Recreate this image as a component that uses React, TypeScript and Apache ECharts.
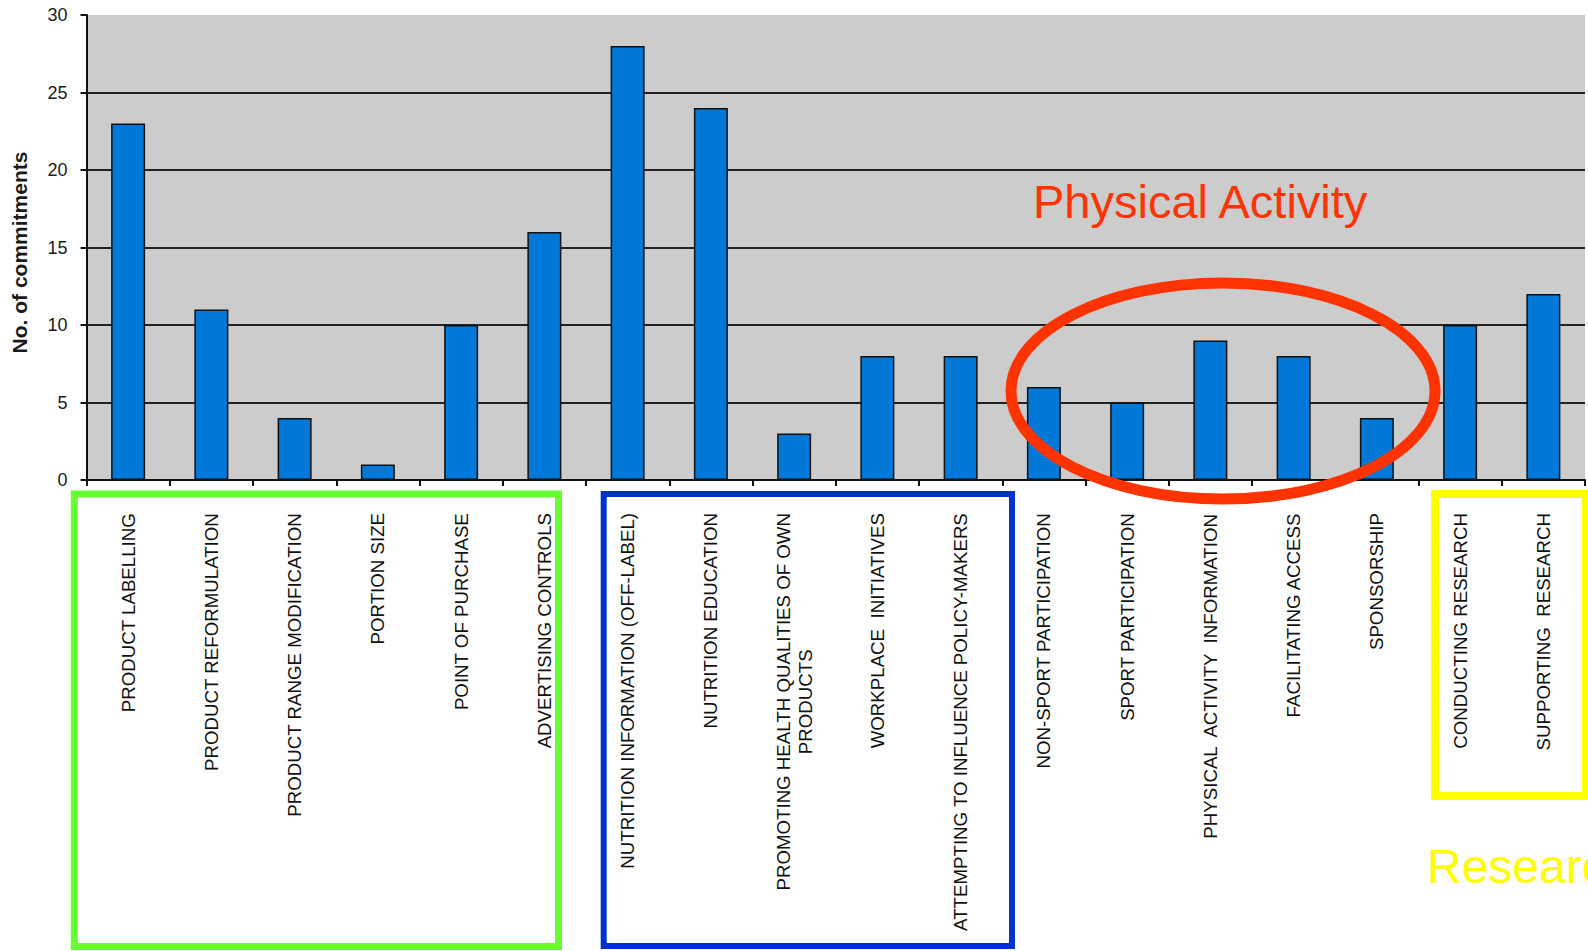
import React, { useEffect, useRef } from "react";
import * as echarts from "echarts";

const categories: string[] = [
  "PRODUCT LABELLING",
  "PRODUCT REFORMULATION",
  "PRODUCT RANGE MODIFICATION",
  "PORTION SIZE",
  "POINT OF PURCHASE",
  "ADVERTISING CONTROLS",
  "NUTRITION INFORMATION (OFF-LABEL)",
  "NUTRITION EDUCATION",
  "PROMOTING HEALTH QUALITIES OF OWN\nPRODUCTS",
  "WORKPLACE  INITIATIVES",
  "ATTEMPTING TO INFLUENCE POLICY-MAKERS",
  "NON-SPORT PARTICIPATION",
  "SPORT PARTICIPATION",
  "PHYSICAL  ACTIVITY  INFORMATION",
  "FACILITATING ACCESS",
  "SPONSORSHIP",
  "CONDUCTING RESEARCH",
  "SUPPORTING  RESEARCH",
];

const commitments: number[] = [23, 11, 4, 1, 10, 16, 28, 24, 3, 8, 8, 6, 5, 9, 8, 4, 10, 12];

const yAxisTitle = "No. of commitments";
const physicalActivityLabel = "Physical Activity";
const researchLabel = "Research";

export default function App() {
  const ref = useRef<HTMLDivElement>(null);

  useEffect(() => {
    if (!ref.current) return;
    const chart = echarts.init(ref.current, undefined, { renderer: "svg" });
    const font = "'Liberation Sans', Arial, sans-serif";
    chart.setOption({
      animation: false,
      backgroundColor: "#ffffff",
      grid: {
        left: 86.5,
        right: 3,
        top: 15,
        bottom: 471,
        containLabel: false,
        show: true,
        backgroundColor: "#cccccc",
        borderWidth: 0,
      },
      xAxis: {
        type: "category",
        data: categories,
        axisLine: { show: true, lineStyle: { color: "#111", width: 2 } },
        axisTick: { show: true, alignWithLabel: false, length: 6, lineStyle: { color: "#111", width: 2 } },
        axisLabel: {
          interval: 0,
          rotate: 90,
          margin: 33,
          fontSize: 18.7,
          fontFamily: font,
          color: "#111",
          formatter: (v: string) =>
            v
              .split("\n")
              .map((l) => "{c|" + l + "}")
              .join("\n"),
          rich: {
            c: {
              align: "center",
              fontSize: 18.7,
              fontFamily: font,
              color: "#111",
              lineHeight: 22,
            },
          },
        },
      },
      yAxis: {
        type: "value",
        min: 0,
        max: 30,
        interval: 5,
        name: yAxisTitle,
        nameLocation: "middle",
        nameRotate: 90,
        nameGap: 57,
        nameTextStyle: {
          fontSize: 21,
          fontWeight: "bold",
          fontFamily: font,
          color: "#1a1a1a",
          padding: [0, 10, 0, 0],
        },
        axisLine: { show: true, lineStyle: { color: "#111", width: 2 } },
        axisTick: { show: true, length: 6, lineStyle: { color: "#111", width: 2 } },
        axisLabel: {
          margin: 19,
          fontSize: 18,
          fontFamily: font,
          color: "#1a1a1a",
        },
        splitLine: {
          show: true,
          showMinLine: true,
          showMaxLine: false,
          lineStyle: { color: "#222", width: 2 },
        },
      },
      series: [
        {
          type: "bar",
          data: commitments,
          barWidth: 34,
          itemStyle: {
            color: "#0078d7",
            borderColor: "#111",
            borderWidth: 1.5,
          },
        },
      ],
      graphic: [
        {
          type: "rect",
          z: 100,
          shape: { x: 74.3, y: 494, width: 484.2, height: 452.5 },
          style: { fill: "none", stroke: "#66ff33", lineWidth: 7 },
        },
        {
          type: "rect",
          z: 100,
          shape: { x: 603.7, y: 494, width: 408.3, height: 452 },
          style: { fill: "none", stroke: "#0033cc", lineWidth: 6 },
        },
        {
          type: "rect",
          z: 100,
          shape: { x: 1435, y: 494, width: 151, height: 302 },
          style: { fill: "none", stroke: "#ffff00", lineWidth: 8 },
        },
        {
          type: "ellipse",
          z: 100,
          shape: { cx: 1223, cy: 391, rx: 212, ry: 108 },
          style: { fill: "none", stroke: "#ff3300", lineWidth: 11 },
        },
        {
          type: "text",
          z: 100,
          x: 1033,
          y: 201.5,
          style: {
            text: physicalActivityLabel,
            fill: "#ff3300",
            font: "47px 'Liberation Sans', Arial, sans-serif",
            align: "left",
            verticalAlign: "middle",
          },
        },
        {
          type: "text",
          z: 100,
          x: 1427,
          y: 866,
          style: {
            text: researchLabel,
            fill: "#ffff00",
            font: "48px 'Liberation Sans', Arial, sans-serif",
            align: "left",
            verticalAlign: "middle",
          },
        },
      ],
    });
    return () => chart.dispose();
  }, []);

  return (
    <div
      ref={ref}
      style={{ position: "absolute", left: 0, top: 0, width: 1588, height: 951, background: "#fff" }}
    />
  );
}
